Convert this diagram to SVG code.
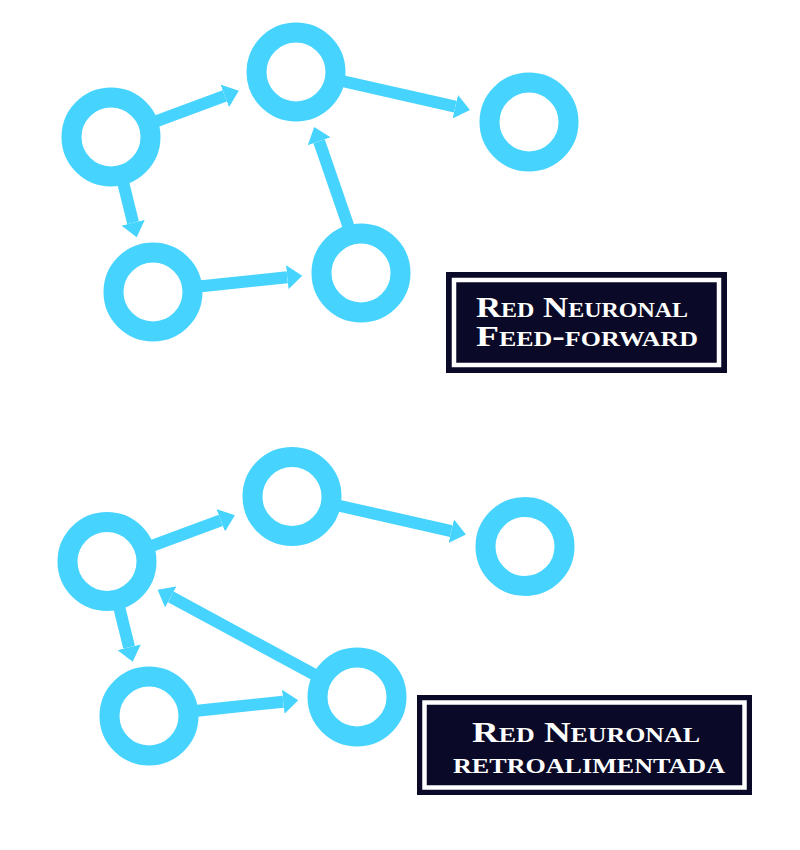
<svg xmlns="http://www.w3.org/2000/svg" width="800" height="850" viewBox="0 0 800 850">
  <defs>
    <marker id="head" markerUnits="userSpaceOnUse" markerWidth="15" markerHeight="24" viewBox="0 0 15 24" refX="0" refY="12" orient="auto">
      <path d="M0,0 L15,12 L0,24 z" fill="#46d4ff"/>
    </marker>
  </defs>
  <style>
    .edge { stroke: #46d4ff; stroke-width: 12; fill: none; marker-end: url(#head); }
    .ring { fill: none; stroke: #46d4ff; stroke-width: 20; }
    .box { fill: #0a0a28; }
    .frame { fill: none; stroke: #ffffff; stroke-width: 4.5; }
    .lbl { fill: #ffffff; font-family: "Liberation Serif", "DejaVu Serif", serif; font-weight: bold; font-variant: small-caps; }
  </style>
  <rect width="800" height="850" fill="#ffffff"/>

  <g id="connectors">
    <!-- feed-forward network -->
    <line class="edge" x1="152.6" y1="122.7" x2="224.8" y2="95.9"/>
    <line class="edge" x1="122" y1="178" x2="133.1" y2="222.8"/>
    <line class="edge" x1="199" y1="286.5" x2="287.3" y2="277.2"/>
    <line class="edge" x1="349" y1="228" x2="319.1" y2="141.3"/>
    <line class="edge" x1="342" y1="81" x2="455.3" y2="106.6"/>
    <!-- recurrent network -->
    <line class="edge" x1="148.6" y1="547.2" x2="220.8" y2="520.4"/>
    <line class="edge" x1="118" y1="602.5" x2="129.1" y2="647.3"/>
    <line class="edge" x1="195" y1="711" x2="283.3" y2="701.7"/>
    <line class="edge" x1="338" y1="505.5" x2="451.3" y2="531.1"/>
    <line class="edge" x1="317" y1="676" x2="170.8" y2="596.9"/>
  </g>

  <g id="ff-n1"><circle class="ring" cx="111" cy="137" r="39.5"/></g>
  <g id="ff-n2"><circle class="ring" cx="296" cy="72" r="39.5"/></g>
  <g id="ff-n3"><circle class="ring" cx="153" cy="292" r="39.5"/></g>
  <g id="ff-n4"><circle class="ring" cx="361" cy="273" r="39.5"/></g>
  <g id="ff-n5"><circle class="ring" cx="529" cy="122" r="39.5"/></g>

  <g id="rn-n1"><circle class="ring" cx="107" cy="561.5" r="39.5"/></g>
  <g id="rn-n2"><circle class="ring" cx="292" cy="496.5" r="39.5"/></g>
  <g id="rn-n3"><circle class="ring" cx="149" cy="716" r="39.5"/></g>
  <g id="rn-n4"><circle class="ring" cx="357" cy="697" r="39.5"/></g>
  <g id="rn-n5"><circle class="ring" cx="525" cy="546.5" r="39.5"/></g>

  <g id="label-ff">
    <rect class="box" x="446" y="272" width="281" height="101"/>
    <rect class="frame" x="454" y="280" width="265" height="85"/>
    <text class="lbl" x="476" y="317" font-size="29" textLength="212" lengthAdjust="spacingAndGlyphs">Red Neuronal</text>
    <text class="lbl" x="476" y="346" font-size="29" textLength="222" lengthAdjust="spacingAndGlyphs">Feed-forward</text>
  </g>

  <g id="label-rn">
    <rect class="box" x="417" y="695" width="335" height="100"/>
    <rect class="frame" x="424.5" y="702.5" width="320" height="85"/>
    <text class="lbl" x="472" y="741.5" font-size="30" textLength="228" lengthAdjust="spacingAndGlyphs">Red Neuronal</text>
    <text class="lbl" x="453" y="772.5" font-size="31" textLength="272" lengthAdjust="spacingAndGlyphs">retroalimentada</text>
  </g>
</svg>
